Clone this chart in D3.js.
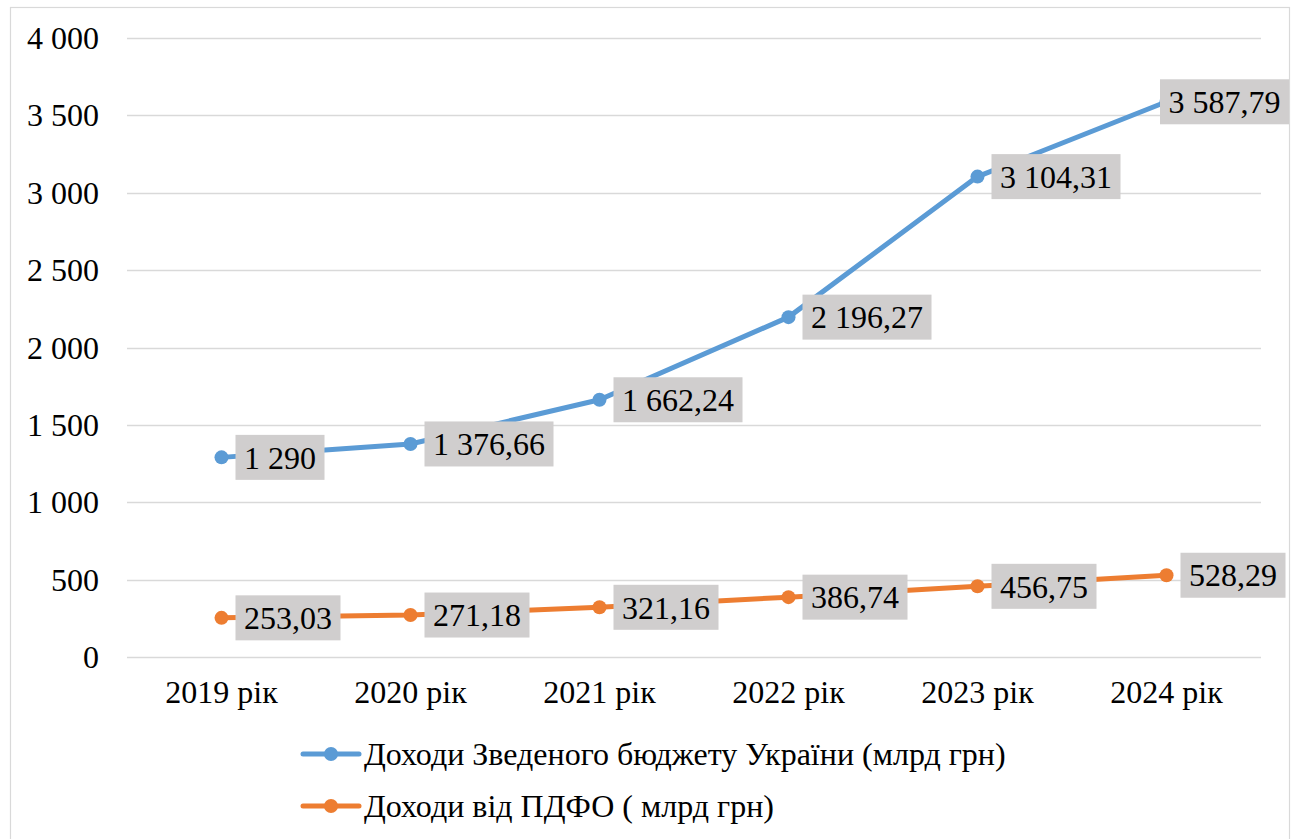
<!DOCTYPE html>
<html>
<head>
<meta charset="utf-8">
<script src="https://cdn.jsdelivr.net/npm/d3@7/dist/d3.min.js"></script>
<style>
  html, body { margin: 0; padding: 0; background: #fff; }
  svg { display: block; }
</style>
</head>
<body>
<svg id="chart" width="1296" height="839"></svg>
<script>
// Years on the category axis
const years = ["2019 рік", "2020 рік", "2021 рік", "2022 рік", "2023 рік", "2024 рік"];
// Consolidated budget revenues, bn UAH
const budgetRevenue = [1290, 1376.66, 1662.24, 2196.27, 3104.31, 3587.79];
// Personal income tax revenues, bn UAH
const pitRevenue = [253.03, 271.18, 321.16, 386.74, 456.75, 528.29];
// Value-axis ticks
const yTicks = [0, 500, 1000, 1500, 2000, 2500, 3000, 3500, 4000];

const seriesNames = [
  "Доходи Зведеного бюджету України (млрд грн)",
  "Доходи від ПДФО ( млрд грн)"
];
const seriesColors = ["#5B9BD5", "#ED7D31"];

const FONT = "'Liberation Serif', 'Times New Roman', serif";
const FS = 32;
const W = 1296, H = 839;
const plot = { left: 127, right: 1261, top: 38, bottom: 657 };

const svg = d3.select("#chart");

// Uk-style number formatting: space thousands, comma decimals
const locale = d3.formatLocale({ decimal: ",", thousands: "\u00a0", grouping: [3], currency: ["", ""] });
const fmtInt = locale.format(",.0f");
const fmtDec = locale.format(",.2f");
const fmtLabel = v => Number.isInteger(v) ? fmtInt(v) : fmtDec(v);

const styleText = sel => sel
  .attr("font-family", FONT)
  .style("font-family", FONT)
  .attr("font-size", FS)
  .style("font-size", FS + "px")
  .attr("fill", "#000");

// Chart-area border
svg.append("rect")
  .attr("x", 10.5).attr("y", 7.5)
  .attr("width", 1279).attr("height", H)
  .attr("fill", "#fff")
  .attr("stroke", "#D9D9D9").attr("stroke-width", 1.2);

const x = d3.scaleBand().domain(years).range([plot.left, plot.right]);
const y = d3.scaleLinear().domain([0, 4000]).range([plot.bottom, plot.top]);

// Horizontal gridlines
svg.append("g")
  .selectAll("line")
  .data(yTicks)
  .join("line")
  .attr("x1", plot.left).attr("x2", plot.right)
  .attr("y1", d => Math.round(y(d)) + 0.5).attr("y2", d => Math.round(y(d)) + 0.5)
  .attr("stroke", "#D9D9D9").attr("stroke-width", 1.5);

// Value axis labels
const yAxis = d3.axisLeft(y).tickValues(yTicks).tickSize(0).tickPadding(0).tickFormat(fmtInt);
const yg = svg.append("g").attr("transform", `translate(99,0)`).call(yAxis);
yg.select(".domain").remove();
yg.selectAll("text").call(styleText).attr("dy", "0.33em");

// Category axis labels
const xAxis = d3.axisBottom(x).tickSize(0).tickPadding(0);
const xg = svg.append("g").attr("transform", `translate(0,${plot.bottom})`).call(xAxis);
xg.select(".domain").remove();
xg.selectAll("text").call(styleText).attr("dy", null).attr("y", 46);

const cx = d => x(d) + x.bandwidth() / 2;
const line = d3.line().x(d => cx(d.year)).y(d => y(d.value));

const series = [budgetRevenue, pitRevenue].map((vals, i) => ({
  name: seriesNames[i],
  color: seriesColors[i],
  points: vals.map((v, j) => ({ year: years[j], value: v }))
}));

// Lines and markers
series.forEach(s => {
  svg.append("path")
    .datum(s.points)
    .attr("d", line)
    .attr("fill", "none")
    .attr("stroke", s.color)
    .attr("stroke-width", 5)
    .attr("stroke-linejoin", "round");
  svg.append("g")
    .selectAll("circle")
    .data(s.points)
    .join("circle")
    .attr("cx", d => cx(d.year))
    .attr("cy", d => y(d.value))
    .attr("r", 7)
    .attr("fill", s.color);
});

// Data labels in shaded boxes, right of each point
const labelLayer = svg.append("g");
series.forEach(s => {
  s.points.forEach(p => {
    const g = labelLayer.append("g");
    const t = g.append("text")
      .call(styleText)
      .attr("text-anchor", "start")
      .text(fmtLabel(p.value));
    const tw = t.node().getComputedTextLength();
    const padX = 8.5, boxH = 45;
    const bw = tw + padX * 2;
    let bx = cx(p.year) + 14;
    if (bx + bw > 1289) bx = 1289 - bw;
    const by = y(p.value) - boxH / 2;
    g.insert("rect", "text")
      .attr("x", bx).attr("y", by)
      .attr("width", bw).attr("height", boxH)
      .attr("fill", "#D0CECE");
    t.attr("x", bx + padX).attr("y", by + boxH / 2).attr("dy", "0.35em");
  });
});

// Legend
const legend = svg.append("g");
const legendRows = [754, 806];
series.forEach((s, i) => {
  const ly = legendRows[i];
  legend.append("line")
    .attr("x1", 303).attr("x2", 359)
    .attr("y1", ly).attr("y2", ly)
    .attr("stroke", s.color).attr("stroke-width", 5)
    .attr("stroke-linecap", "round");
  legend.append("circle")
    .attr("cx", 331).attr("cy", ly).attr("r", 7)
    .attr("fill", s.color);
  legend.append("text")
    .call(styleText)
    .attr("x", 364).attr("y", ly).attr("dy", "0.35em")
    .text(s.name);
});
</script>
</body>
</html>
